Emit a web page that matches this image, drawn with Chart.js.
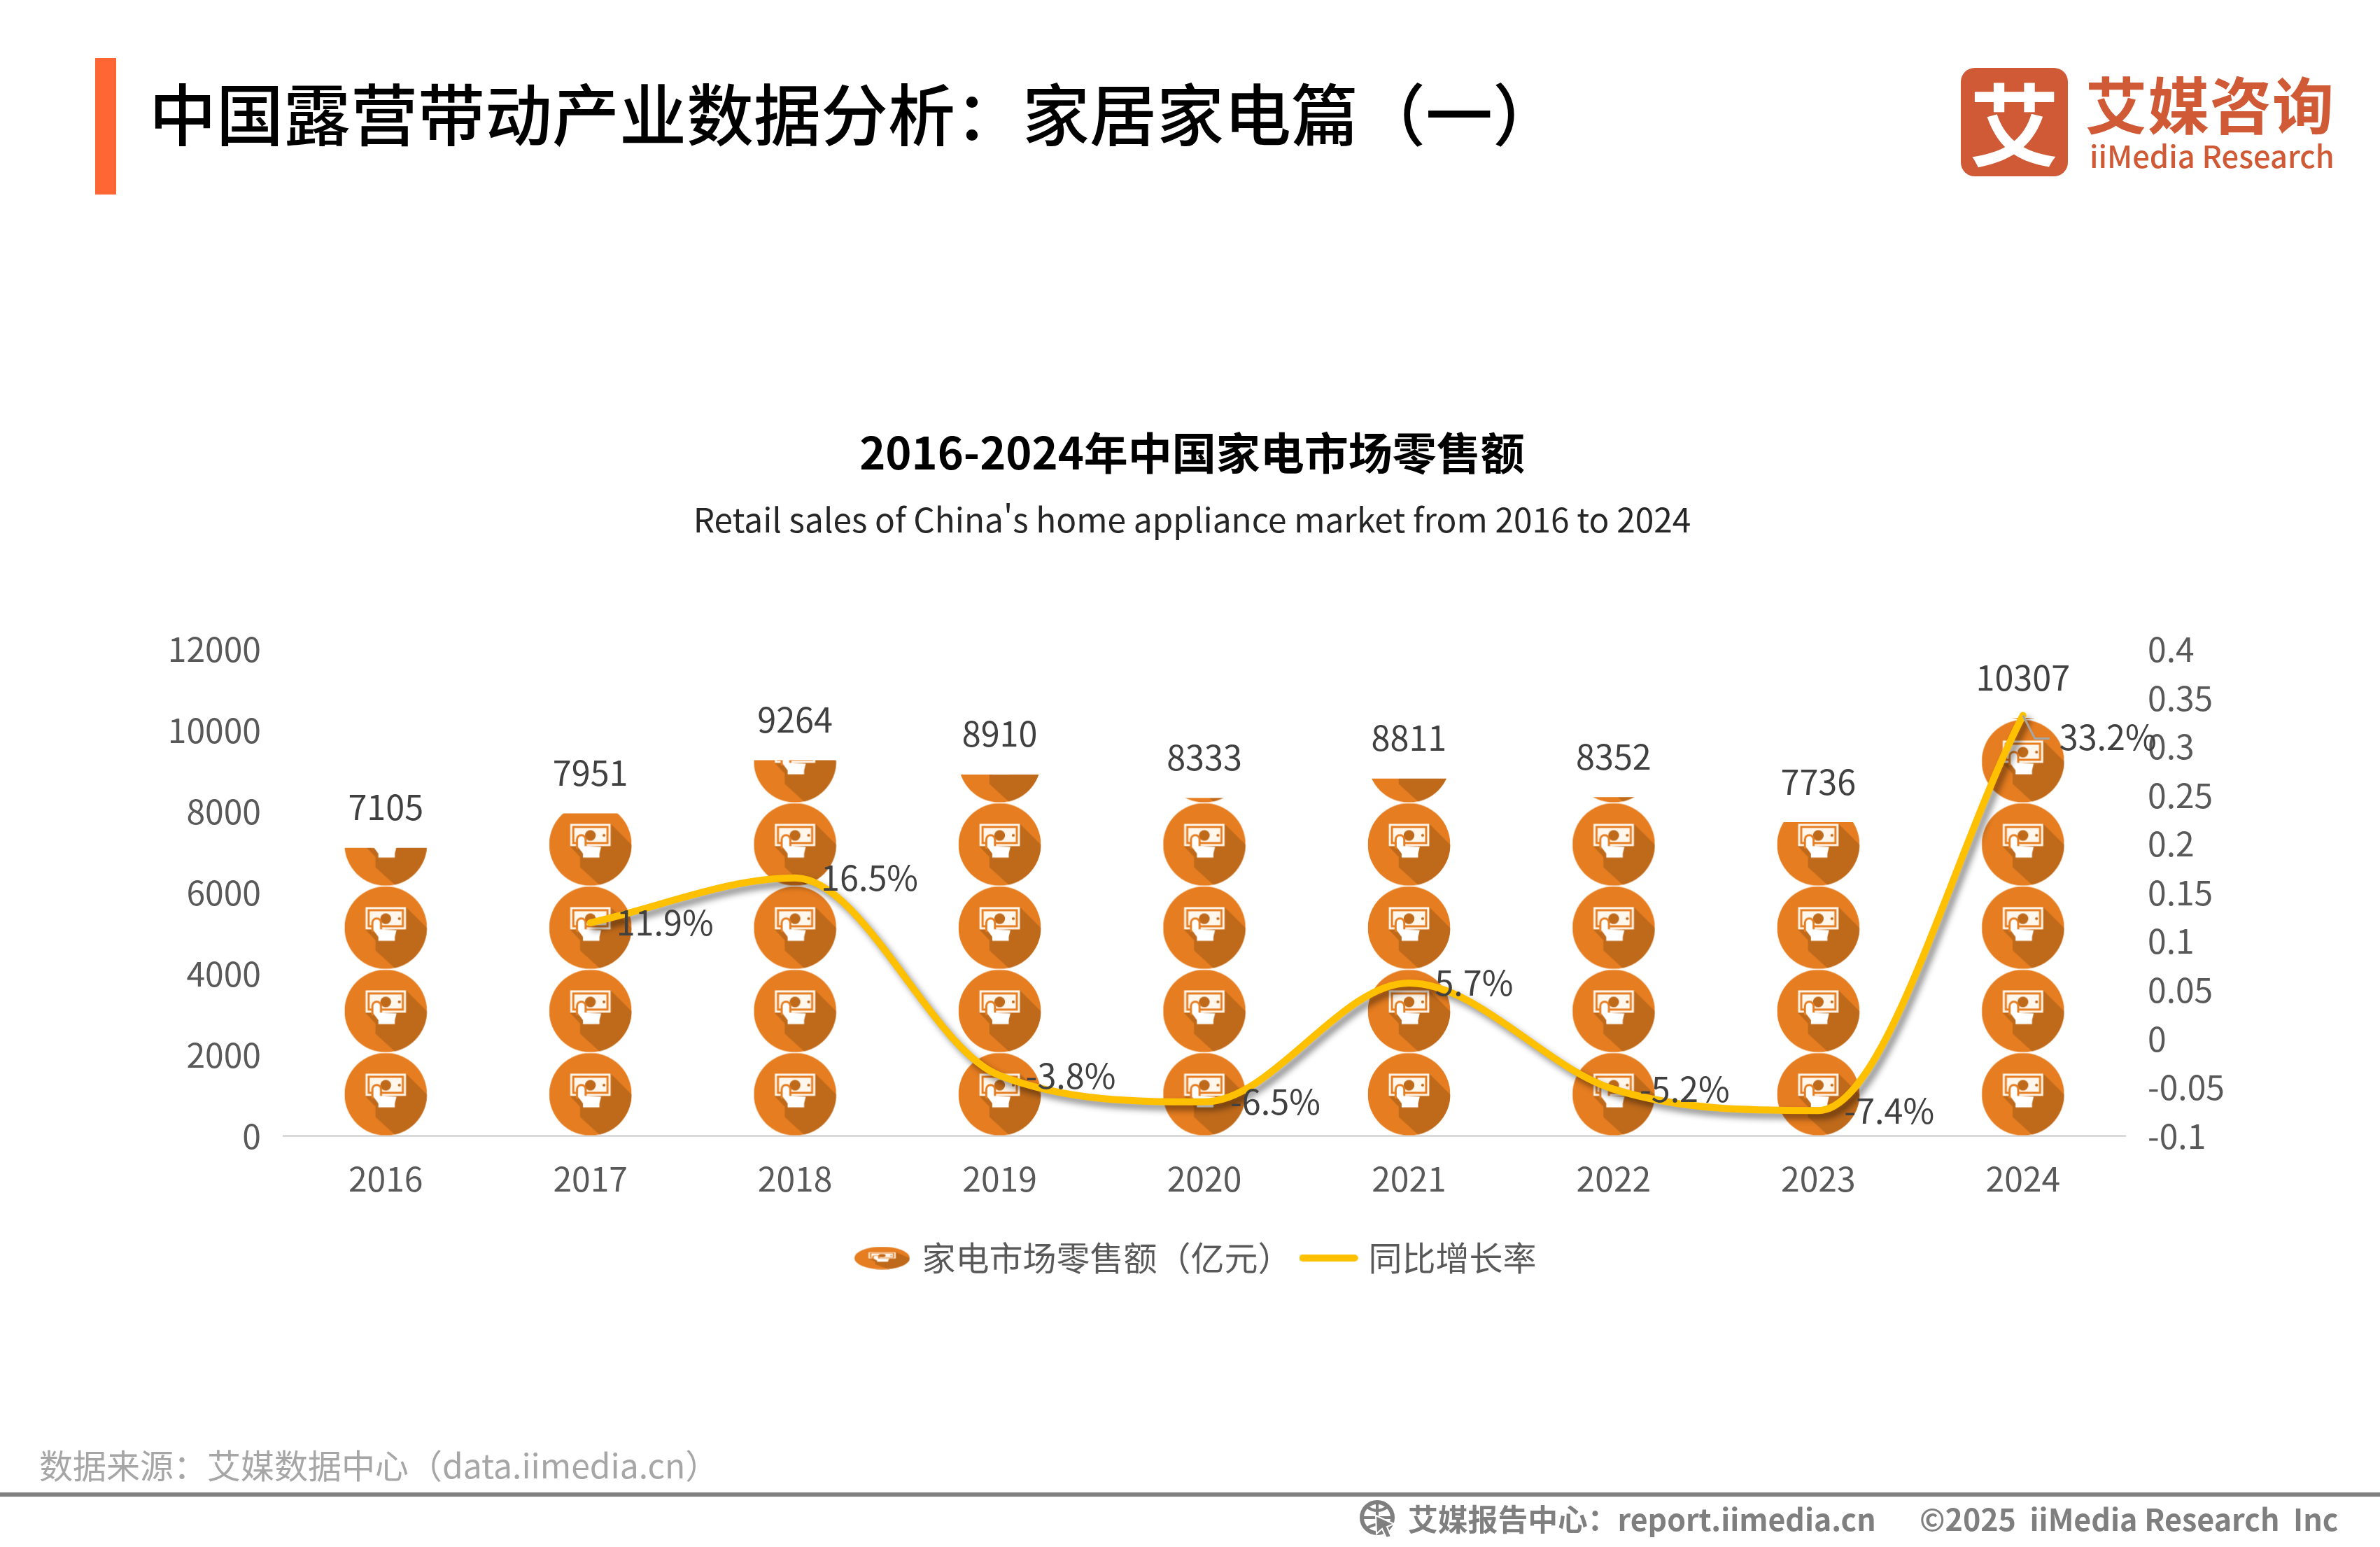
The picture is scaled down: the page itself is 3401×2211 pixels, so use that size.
<!DOCTYPE html>
<html lang="zh">
<head>
<meta charset="utf-8">
<title>2016-2024年中国家电市场零售额</title>
<script src="https://cdn.jsdelivr.net/npm/chart.js@4/dist/chart.umd.min.js"></script>
<style>
  html, body { margin: 0; padding: 0; background: #fff; }
  body { position: relative; width: 3401px; height: 2211px; overflow: hidden; font-family: "Noto Sans CJK SC", "Noto Sans", sans-serif; }
  #chart { position: absolute; left: 0; top: 0; }
  .abs { position: absolute; white-space: nowrap; line-height: 1; }
  #logoBox { left: 2802px; top: 97px; width: 153px; height: 155px; border-radius: 20px; background: #D05A36; overflow: hidden; }
  #logoMark { left: 0; top: 12px; width: 153px; text-align: center; font-size: 128px; font-weight: 700; color: #fff; }
</style>
</head>
<body>
<canvas id="chart" width="3401" height="2211"></canvas>

<div class="abs" style="left:136px;top:83px;width:30px;height:195px;background:#FF6633"></div>
<div class="abs" style="left:213px;top:111px;font-size:96px;font-weight:500;color:#000">中国露营带动产业数据分析：家居家电篇（一）</div>

<div class="abs" id="logoBox"><div class="abs" id="logoMark">艾</div></div>
<div class="abs" style="left:2980px;top:102px;font-size:88px;font-weight:700;color:#D05A36;letter-spacing:1px">艾媒咨询</div>
<div class="abs" style="left:2986px;top:200px;font-size:43.5px;font-weight:500;color:#D05A36">iiMedia Research</div>

<div class="abs" style="left:56px;top:2068px;font-size:48px;color:#A6A6A6">数据来源：艾媒数据中心（data.iimedia.cn）</div>
<div class="abs" style="left:0;top:2133px;width:3401px;height:6px;background:#7F7F7F"></div>
<svg class="abs" style="left:1940px;top:2142px" width="58" height="58" viewBox="0 0 58 58">
  <circle cx="28" cy="27" r="22" fill="none" stroke="#7F7F7F" stroke-width="6"/>
  <path d="M28 5V49M6 27H50M14 12Q28 22 42 12M14 42Q28 32 42 42" fill="none" stroke="#7F7F7F" stroke-width="4"/>
  <path d="M26 24L52 36L42 40L48 54L41 56L35 43L27 50Z" fill="#7F7F7F" stroke="#fff" stroke-width="2"/>
</svg>
<div class="abs" style="left:2012px;top:2148px;font-size:42.8px;font-weight:700;color:#7F7F7F">艾媒报告中心：report.iimedia.cn</div>
<div class="abs" style="left:2743px;top:2148px;font-size:43px;font-weight:700;color:#7F7F7F;white-space:pre">©2025  iiMedia Research  Inc</div>

<script>
const years = ["2016", "2017", "2018", "2019", "2020", "2021", "2022", "2023", "2024"];
const retailSales = [7105, 7951, 9264, 8910, 8333, 8811, 8352, 7736, 10307];
const growthRates = [null, 0.119, 0.165, -0.038, -0.065, 0.057, -0.052, -0.074, 0.332];
const growthLabels = ["", "11.9%", "16.5%", "-3.8%", "-6.5%", "5.7%", "-5.2%", "-7.4%", "33.2%"];
const salesTicks = [0, 2000, 4000, 6000, 8000, 10000, 12000];
const rateTicks = [-0.1, -0.05, 0, 0.05, 0.1, 0.15, 0.2, 0.25, 0.3, 0.35, 0.4];

const FONT = '"Noto Sans CJK SC", "Noto Sans", sans-serif';
const ICON_SIZE = 119;

/* ===============================
   ICON (coin with banknote and hand)
================================ */
function makeCoin(w, h) {
  const c = document.createElement("canvas");
  c.width = w;
  c.height = h;
  const g = c.getContext("2d");
  g.scale(w / 2, h / 2);
  g.translate(1, 1);
  g.scale(0.99, 0.99);

  g.beginPath();
  g.arc(0, 0, 1, 0, Math.PI * 2);
  g.clip();
  g.fillStyle = "#E67D20";
  g.fillRect(-1, -1, 2, 2);

  // long shadow behind the hand
  g.fillStyle = "#BF6A1B";
  g.beginPath();
  g.moveTo(0.49, -0.5);
  g.lineTo(1.6, 0.6);
  g.lineTo(1.6, 1.6);
  g.lineTo(0.9, 1.6);
  g.lineTo(-0.25, 0.55);
  g.lineTo(-0.25, 0.3);
  g.lineTo(-0.5, 0.04);
  g.closePath();
  g.fill();

  // banknote
  g.fillStyle = "#E67D20";
  g.fillRect(-0.49, -0.5, 0.98, 0.54);
  g.strokeStyle = "#FFF6EC";
  g.lineWidth = 0.05;
  g.strokeRect(-0.465, -0.475, 0.93, 0.49);
  g.fillStyle = "#FFF6EC";
  g.fillRect(-0.39, -0.4, 0.78, 0.34);
  g.fillStyle = "#BF6A1B";
  g.beginPath();
  g.arc(0, -0.22, 0.13, 0, Math.PI * 2);
  g.fill();
  g.beginPath();
  g.arc(0.33, -0.22, 0.035, 0, Math.PI * 2);
  g.fill();

  // hand
  g.fillStyle = "#E67D20";
  g.beginPath();
  g.arc(-0.22, -0.12, 0.13, Math.PI, 0);
  g.lineTo(-0.09, 0.1);
  g.lineTo(-0.35, 0.1);
  g.closePath();
  g.fill();
  g.fillStyle = "#FFFFFF";
  g.beginPath();
  g.moveTo(-0.3, -0.12);
  g.arc(-0.22, -0.12, 0.08, Math.PI, 0);
  g.lineTo(-0.14, 0.04);
  g.lineTo(0.26, 0.06);
  g.lineTo(0.22, 0.22);
  g.lineTo(0.22, 0.32);
  g.lineTo(-0.18, 0.32);
  g.lineTo(-0.18, 0.22);
  g.lineTo(-0.3, 0.06);
  g.closePath();
  g.fill();
  return c;
}

function makeLegendLine() {
  const c = document.createElement("canvas");
  c.width = 84;
  c.height = 10;
  const g = c.getContext("2d");
  g.fillStyle = "#FFC000";
  g.beginPath();
  g.roundRect(0, 0, 84, 10, 5);
  g.fill();
  return c;
}

const coin = makeCoin(ICON_SIZE, ICON_SIZE);
const legendCoin = makeCoin(80, 33);
const legendLine = makeLegendLine();

/* ===============================
   PLUGINS
================================ */
// paints each bar as a pile of coins, cut off at the top of the bar
const coinStack = {
  id: "coinStack",
  afterDatasetDraw(chart, args) {
    if (args.index !== 0) return;
    const ctx = chart.ctx;
    args.meta.data.forEach(bar => {
      const left = bar.x - bar.width / 2;
      ctx.save();
      ctx.beginPath();
      ctx.rect(left, bar.y, bar.width, bar.base - bar.y);
      ctx.clip();
      for (let y = bar.base - ICON_SIZE; y + ICON_SIZE > bar.y; y -= ICON_SIZE) {
        ctx.drawImage(coin, left, y, ICON_SIZE, ICON_SIZE);
      }
      ctx.restore();
    });
  }
};

// grey drop shadow under the growth line
const lineShadow = {
  id: "lineShadow",
  beforeDatasetDraw(chart, args) {
    if (args.index !== 1) return;
    const ctx = chart.ctx;
    ctx.save();
    ctx.shadowColor = "rgba(0,0,0,0.45)";
    ctx.shadowBlur = 10;
    ctx.shadowOffsetX = 6;
    ctx.shadowOffsetY = 7;
  },
  afterDatasetDraw(chart, args) {
    if (args.index === 1) chart.ctx.restore();
  }
};

const valueLabels = {
  id: "valueLabels",
  afterDatasetsDraw(chart) {
    const ctx = chart.ctx;
    ctx.save();
    ctx.font = "48.5px " + FONT;
    ctx.fillStyle = "#404040";
    ctx.textBaseline = "middle";

    ctx.textAlign = "center";
    chart.getDatasetMeta(0).data.forEach((bar, i) => {
      ctx.fillText(String(retailSales[i]), bar.x, bar.y - 58);
    });

    ctx.textAlign = "left";
    const points = chart.getDatasetMeta(1).data;
    points.forEach((pt, i) => {
      if (growthRates[i] === null) return;
      const last = i === points.length - 1;
      if (last) {
        // leader line for the label that sits beside the peak
        ctx.strokeStyle = "#A6A6A6";
        ctx.lineWidth = 3;
        ctx.beginPath();
        ctx.moveTo(pt.x, pt.y);
        ctx.lineTo(pt.x + 17, pt.y + 33);
        ctx.lineTo(pt.x + 38, pt.y + 33);
        ctx.stroke();
      }
      ctx.fillText(growthLabels[i], pt.x + (last ? 52 : 37), pt.y + (last ? 31 : 0));
    });
    ctx.restore();
  }
};

// legend sits a little right of the page centre in the reference
const legendNudge = {
  id: "legendNudge",
  afterLayout(chart) {
    chart.legend.left += 8;
    chart.legend.right += 8;
  }
};

/* ===============================
   CHART
================================ */
new Chart(document.getElementById("chart"), {
  data: {
    labels: years,
    datasets: [
      {
        type: "bar",
        label: "家电市场零售额（亿元）",
        data: retailSales,
        yAxisID: "y",
        order: 2,
        barThickness: ICON_SIZE,
        backgroundColor: "rgba(0,0,0,0)",
        pointStyle: legendCoin
      },
      {
        type: "line",
        label: "同比增长率",
        data: growthRates,
        yAxisID: "y1",
        order: 1,
        borderColor: "#FFC000",
        borderWidth: 10,
        borderCapStyle: "round",
        cubicInterpolationMode: "monotone",
        pointRadius: 0,
        clip: false,
        pointStyle: legendLine
      }
    ]
  },
  plugins: [coinStack, lineShadow, valueLabels, legendNudge],
  options: {
    responsive: false,
    devicePixelRatio: 1,
    animation: false,
    layout: { padding: { left: 6, top: 609, bottom: 379 } },
    plugins: {
      tooltip: { enabled: false },
      title: {
        display: true,
        text: "2016-2024年中国家电市场零售额",
        color: "#000",
        font: { family: FONT, size: 63, weight: "bold" },
        padding: { top: 0, bottom: 30 }
      },
      subtitle: {
        display: true,
        text: "Retail sales of China's home appliance market from 2016 to 2024",
        color: "#262626",
        font: { family: FONT, size: 47.8 },
        padding: { top: 0, bottom: 156 }
      },
      legend: {
        position: "bottom",
        onClick: null,
        labels: {
          usePointStyle: true,
          pointStyleWidth: 66,
          color: "#595959",
          font: { family: FONT, size: 48 },
          padding: 20,
          sort: (a, b) => a.datasetIndex - b.datasetIndex
        }
      }
    },
    scales: {
      x: {
        afterFit(scale) { scale.height += 7; },
        grid: { display: false, drawTicks: false },
        border: { display: true, color: "#D9D9D9", width: 3 },
        ticks: { color: "#595959", font: { family: FONT, size: 48 }, padding: 33 }
      },
      y: {
        position: "left",
        min: 0,
        max: 12000,
        afterFit(scale) { scale.width = 399; },
        afterBuildTicks(scale) { scale.ticks = salesTicks.map(value => ({ value })); },
        grid: { display: false, drawTicks: false },
        border: { display: false },
        ticks: { color: "#595959", font: { family: FONT, size: 48 }, padding: 32, callback: v => String(v) }
      },
      y1: {
        position: "right",
        min: -0.1,
        max: 0.4,
        afterFit(scale) { scale.width = 364; },
        afterBuildTicks(scale) { scale.ticks = rateTicks.map(value => ({ value })); },
        grid: { display: false, drawTicks: false },
        border: { display: false },
        ticks: { color: "#595959", font: { family: FONT, size: 48 }, padding: 32, autoSkip: false, callback: v => String(v) }
      }
    }
  }
});
</script>
</body>
</html>
